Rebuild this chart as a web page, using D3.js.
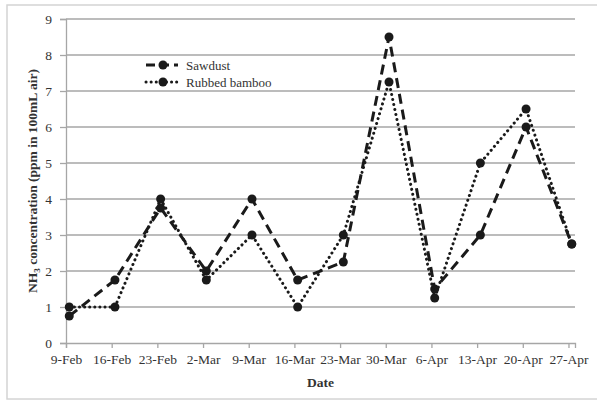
<!DOCTYPE html>
<html><head><meta charset="utf-8">
<script src="https://cdn.jsdelivr.net/npm/d3@7"></script>
<style>body{margin:0;background:#fff}svg{display:block}</style>
</head><body><svg id="c" width="597" height="401"></svg>
<script>
const dates = ["2014-02-09","2014-02-16","2014-02-23","2014-03-02","2014-03-09","2014-03-16","2014-03-23","2014-03-30","2014-04-06","2014-04-13","2014-04-20","2014-04-27"];
const tickLabels = ["9-Feb","16-Feb","23-Feb","2-Mar","9-Mar","16-Mar","23-Mar","30-Mar","6-Apr","13-Apr","20-Apr","27-Apr"];
const sawdust = [0.75,1.75,3.75,2,4,1.75,2.25,8.5,1.5,3,6,2.75];
const bamboo = [1,1,4,1.75,3,1,3,7.25,1.25,5,6.5,2.75];
const yTicks = [0,1,2,3,4,5,6,7,8,9];
const seriesNames = ["Sawdust","Rubbed bamboo"];

const FONT = '"Liberation Serif", "Times New Roman", serif';
const parse = d3.timeParse("%Y-%m-%d");
const dts = dates.map(parse);
const svg = d3.select("#c");
const L=66,R=575,T=19,B=343;
const x = d3.scaleTime().domain([dts[0], d3.timeDay.offset(dts[dts.length-1],1)]).range([L,R]);
const y = d3.scaleLinear().domain([0,9]).range([B,T]);

svg.append("rect").attr("x",7).attr("y",5).attr("width",600).attr("height",394).attr("fill","none").attr("stroke","#d4d4d4").attr("stroke-width",1.5);

svg.append("g").selectAll("line").data(yTicks.slice(1)).join("line")
  .attr("x1",L).attr("x2",R).attr("y1",d=>y(d)).attr("y2",d=>y(d))
  .attr("stroke","#a6a6a6").attr("stroke-width",1.3);

const yAxis = svg.append("g").attr("transform",`translate(${L},0)`)
  .call(d3.axisLeft(y).tickValues(yTicks).tickSize(6).tickPadding(8).tickFormat(d3.format("d")));
const xAxis = svg.append("g").attr("transform",`translate(0,${B})`)
  .call(d3.axisBottom(x).tickValues(dts).tickSize(5).tickPadding(6).tickFormat((d,i)=>tickLabels[i]));
[yAxis,xAxis].forEach(a=>{
  a.attr("font-family",null).attr("font-size",null);
  a.selectAll("path.domain").attr("stroke","#a6a6a6").attr("stroke-width",1.3);
  a.selectAll(".tick line").attr("stroke","#a6a6a6").attr("stroke-width",1.3);
  a.selectAll("text").style("font-family",FONT).style("font-size","13.5px").attr("fill","#333");
});

const xp = d => x(d3.timeHour.offset(d,12));
const line = d3.line().x(d=>xp(d[0])).y(d=>y(d[1]));
const styles = [{dash:"10,6",w:3,cap:"butt"},{dash:"0.1,5",w:3,cap:"round"}];
[sawdust,bamboo].forEach((vals,k)=>{
  const pts = dts.map((d,i)=>[d,vals[i]]);
  svg.append("path").datum(pts).attr("d",line).attr("fill","none")
    .attr("stroke","#1a1a1a").attr("stroke-width",styles[k].w)
    .attr("stroke-dasharray",styles[k].dash).attr("stroke-linecap",styles[k].cap);
  svg.append("g").selectAll("circle").data(pts).join("circle")
    .attr("cx",d=>xp(d[0])).attr("cy",d=>y(d[1])).attr("r",4.5).attr("fill","#1a1a1a");
});

seriesNames.forEach((n,k)=>{
  const ly = 65 + k*17;
  svg.append("line").attr("x1",146).attr("x2",178).attr("y1",ly).attr("y2",ly)
    .attr("stroke","#1a1a1a").attr("stroke-width",3)
    .attr("stroke-dasharray",k?"0.1,5":"9,5").attr("stroke-linecap",k?"round":"butt");
  svg.append("circle").attr("cx",163).attr("cy",ly).attr("r",4.5).attr("fill","#1a1a1a");
  svg.append("text").attr("x",186).attr("y",ly+4.5).style("font-family",FONT).style("font-size","13px").attr("fill","#333").text(n);
});

svg.append("text").attr("x",(L+R)/2).attr("y",387).attr("text-anchor","middle")
  .style("font-family",FONT).style("font-size","13.5px").attr("font-weight","bold").attr("fill","#333").text("Date");
const yt = svg.append("text").attr("transform",`translate(37,${(T+B)/2}) rotate(-90)`)
  .attr("text-anchor","middle").style("font-family",FONT).style("font-size","13.5px").attr("font-weight","bold").attr("fill","#333");
yt.append("tspan").text("NH");
yt.append("tspan").style("font-size","9px").attr("dy",3).text("3");
yt.append("tspan").attr("dy",-3).text(" concentration (ppm in 100mL air)");
</script></body></html>
